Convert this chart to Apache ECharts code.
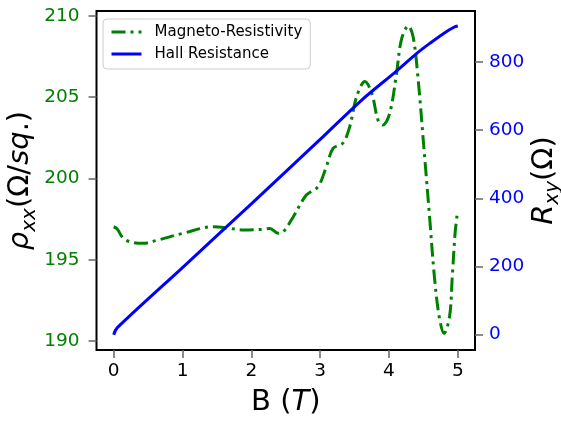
<!DOCTYPE html>
<html>
<head>
<meta charset="utf-8">
<script src="https://cdn.jsdelivr.net/npm/echarts@6/dist/echarts.min.js"></script>
<style>html,body{margin:0;padding:0;background:#fff;}#c{width:561px;height:422px;}</style>
</head>
<body>
<div id="c"></div>
<script>
// Magneto-resistivity (rho_xx, left axis)
var bRho = [0, 0.05, 0.14, 0.29, 0.43, 0.63, 1.01, 1.45, 1.69, 1.88, 2.17, 2.27, 2.39, 2.46, 2.61, 2.80, 2.97, 3.09, 3.19, 3.33, 3.43, 3.53, 3.65, 3.75, 3.84, 3.91, 4.01, 4.11, 4.18, 4.28, 4.35, 4.42, 4.51, 4.59, 4.66, 4.73, 4.80, 4.88, 4.92, 4.96, 4.99];
var rhoXX = [197.03, 196.9, 196.32, 196.05, 196.01, 196.2, 196.63, 197.03, 196.93, 196.83, 196.87, 196.93, 196.63, 196.7, 197.65, 198.98, 199.5, 200.73, 201.86, 202.17, 203.19, 205.03, 205.96, 205.24, 203.6, 203.29, 204.0, 206.47, 208.52, 209.38, 208.73, 206.27, 201.75, 197.65, 193.96, 191.5, 190.47, 191.5, 193.96, 196.6, 197.75];
// Hall resistance (R_xy, right axis)
var bHall = [0, 0.05, 1, 2, 3, 3.6, 4.1, 4.4, 4.6, 4.8, 4.95, 5.0];
var rXY = [0, 20, 197, 384, 573, 688, 772, 825, 856, 885, 903, 906];
// tick labels
var xTicks = [0, 1, 2, 3, 4, 5];
var leftTicks = [190, 195, 200, 205, 210];
var rightTicks = [0, 200, 400, 600, 800];

function pairs(xs, ys) { return xs.map(function (x, i) { return [x, ys[i]]; }); }

var FONT = 'DejaVu Sans';
var GREEN = '#008000', BLUE = '#0000ff';
var nameRich = {
  n: { fontSize: 29, fontFamily: FONT, color: '#000', lineHeight: 38 },
  it: { fontSize: 29, fontFamily: FONT, fontStyle: 'italic', color: '#000', lineHeight: 38 },
  sub: { fontSize: 20, fontFamily: FONT, fontStyle: 'italic', color: '#000', lineHeight: 20, verticalAlign: 'bottom' }
};
function ticks(vals) {
  return { show: true, inside: false, length: 8, customValues: vals, lineStyle: { color: '#666', width: 1.5 } };
}

var chart = echarts.init(document.getElementById('c'), null, { renderer: 'canvas' });
chart.setOption({
  animation: false,
  backgroundColor: '#fff',
  grid: { left: 96.5, right: 86, top: 11, bottom: 72, show: true, borderColor: '#000', borderWidth: 2, backgroundColor: 'transparent', outerBoundsMode: 'none' },
  legend: {
    orient: 'vertical', left: 103, top: 19,
    padding: [5.5, 8, 7.5, 7], itemGap: 7, itemWidth: 30, itemHeight: 14,
    backgroundColor: 'rgba(255,255,255,0.8)', borderColor: '#cccccc', borderWidth: 1, borderRadius: 4,
    itemStyle: { opacity: 0 },
    lineStyle: { width: 3 },
    textStyle: { fontFamily: FONT, fontSize: 15, color: '#000', padding: [0, 0, 0, 8] },
    data: ['Magneto-Resistivity', 'Hall Resistance']
  },
  xAxis: {
    type: 'value', min: -0.25, max: 5.25,
    name: '{n|B (}{it|T}{n|)}', nameLocation: 'middle', nameGap: 33, nameMoveOverlap: false,
    nameTextStyle: { rich: nameRich },
    axisLine: { show: false, onZero: false },
    axisTick: ticks(xTicks),
    axisLabel: { customValues: xTicks, color: '#000', fontSize: 18.5, fontFamily: FONT, margin: 12 },
    splitLine: { show: false }
  },
  yAxis: [
    {
      type: 'value', min: 189.45, max: 210.3, position: 'left',
      name: '{it|ρ}{sub|xx}{n|(Ω/}{it|sq}{n|.)}', nameLocation: 'middle', nameGap: 57, nameRotate: 90, nameMoveOverlap: false,
      nameTextStyle: { rich: nameRich },
      axisLine: { show: false, onZero: false },
      axisTick: ticks(leftTicks),
      axisLabel: { customValues: leftTicks, color: GREEN, fontSize: 18.5, fontFamily: FONT, margin: 17 },
      splitLine: { show: false }
    },
    {
      type: 'value', min: -45, max: 950, position: 'right',
      name: '{it|R}{sub|xy}{n|(Ω)}', nameLocation: 'middle', nameGap: 50, nameRotate: 90, nameMoveOverlap: false,
      nameTextStyle: { rich: nameRich },
      axisLine: { show: false, onZero: false },
      axisTick: ticks(rightTicks),
      axisLabel: { customValues: rightTicks, color: BLUE, fontSize: 18.5, fontFamily: FONT, margin: 14 },
      splitLine: { show: false }
    }
  ],
  series: [
    {
      name: 'Magneto-Resistivity', type: 'line', yAxisIndex: 0, symbol: 'none', smooth: 0.35,
      data: pairs(bRho, rhoXX),
      lineStyle: { color: GREEN, width: 3, type: [14, 5, 3, 5] }, itemStyle: { color: GREEN }, z: 2
    },
    {
      name: 'Hall Resistance', type: 'line', yAxisIndex: 1, symbol: 'none', smooth: 0.3,
      data: pairs(bHall, rXY),
      lineStyle: { color: BLUE, width: 3 }, itemStyle: { color: BLUE }, z: 3
    }
  ]
});
</script>
</body>
</html>
